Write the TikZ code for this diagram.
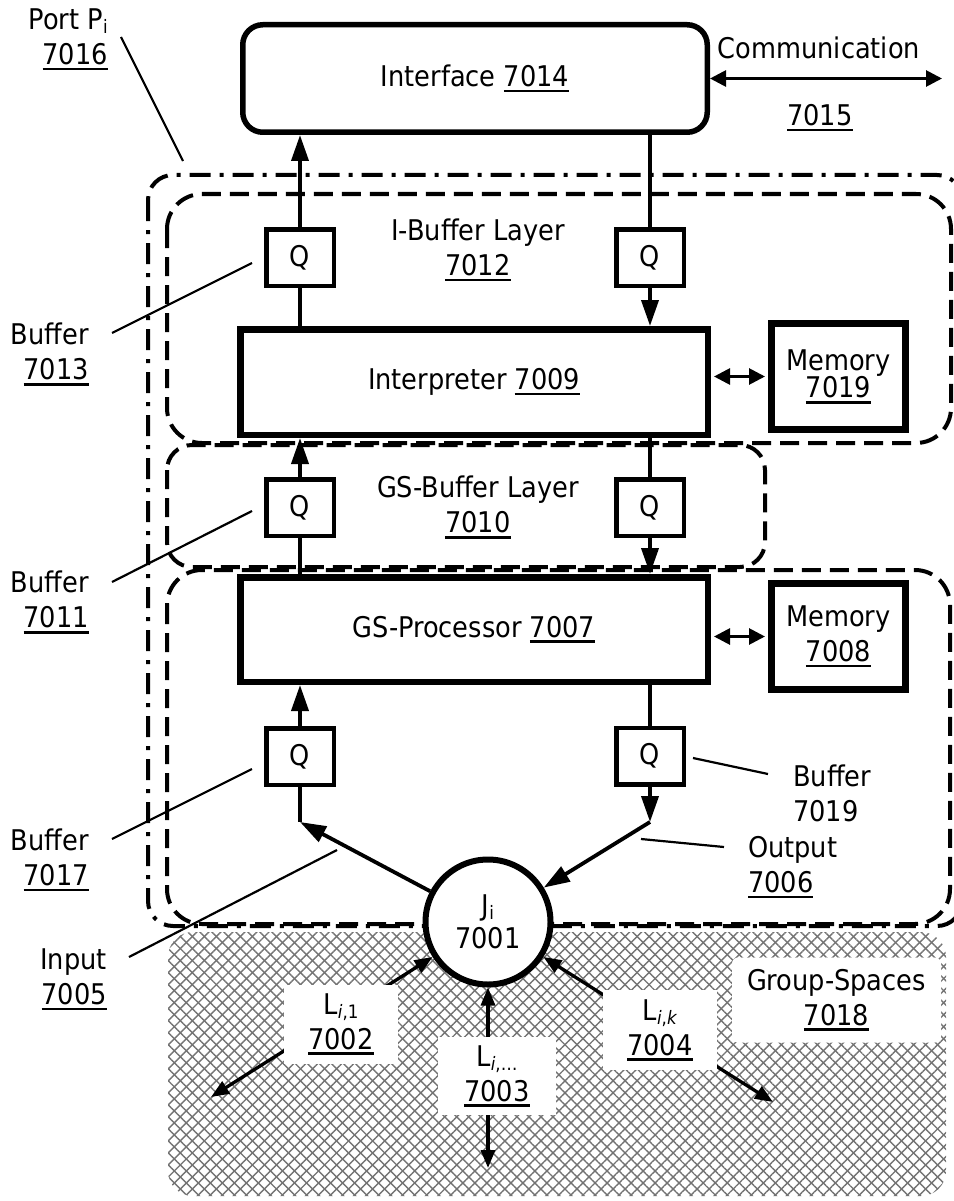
\documentclass[tikz,border=0pt]{standalone}
\usepackage{fontspec}
\setmainfont{DejaVu Sans Condensed}
\usetikzlibrary{arrows.meta,patterns.meta,calc}
\newcommand{\fs}{\fontsize{28.5}{35}\selectfont}
\newcommand{\mysub}[1]{\raisebox{-4pt}{\fontsize{18.5}{18.5}\selectfont #1}}
\newcommand{\myul}[1]{\setbox0\hbox{#1}\rlap{\rule[-5.8pt]{\wd0}{2.5pt}}\box0}
\begin{document}
\begin{tikzpicture}[x=1pt,y=-1pt,
  txt/.style={font=\fs, inner sep=0pt},
  bbox/.style={draw, fill=white, line width=6.5pt, font=\fs, align=center, inner sep=0pt,
    minimum width=467.5pt},
  rbox/.style={draw, fill=white, line width=5.5pt, font=\fs, inner sep=0pt, rounded corners=20pt,
    minimum width=464.5pt, minimum height=107.5pt},
  mbox/.style={draw, fill=white, line width=7pt, font=\fs, align=center, inner sep=0pt,
    minimum width=134pt, minimum height=106pt},
  qbox/.style={draw, fill=white, line width=4.5pt, font=\fs, inner sep=0pt,
    minimum width=67.5pt, minimum height=56.5pt},
  jcirc/.style={draw, fill=white, circle, line width=6pt, font=\fontsize{28.5}{33}\selectfont,
    align=center, inner sep=0pt, minimum size=125pt},
  wlab/.style={fill=white, font=\fs, align=center, inner sep=0pt},
  conn/.style={line width=3.8pt},
  arr/.style={line width=3.8pt, -{Triangle[length=26pt,width=17pt]}},
  darr/.style={line width=2.8pt, {Triangle[length=16pt,width=16pt]}-{Triangle[length=16pt,width=16pt]}},
  harr/.style={line width=3.3pt, {Triangle[length=18pt,width=14pt]}-{Triangle[length=18pt,width=14pt]}},
  leader/.style={line width=2.2pt},
  dashbox/.style={line width=4pt, dash pattern=on 19pt off 9pt, rounded corners=35pt},
  dashdotbox/.style={line width=4pt, dash pattern=on 21pt off 9pt on 4pt off 9pt, rounded corners=25pt}
]
\useasboundingbox (0,0) rectangle (953,1201);

% group-spaces hatch
\path[pattern={Lines[angle=45,distance=8.5pt,line width=1.4pt]}, pattern color=black!55,
  rounded corners=25pt] (168,932) rectangle (946,1196);
\path[pattern={Lines[angle=-45,distance=8.5pt,line width=1.4pt]}, pattern color=black!55,
  rounded corners=25pt] (168,932) rectangle (946,1196);

% regions
\draw[dashdotbox] (148,175) rectangle (962,926);
\draw[dashbox] (167,194) rectangle (951,443);
\draw[dashbox, rounded corners=25pt] (167,445) rectangle (765,567);
\draw[dashbox] (167,570) rectangle (950,924);

% blocks
\node[rbox] (iface) at (475,78.5) {Interface \myul{7014}};
\node[bbox, minimum height=105.5pt] (interp) at (474,382) {Interpreter \myul{7009}};
\node[bbox, minimum height=104.5pt] (gsp) at (474,629.5) {GS-Processor \myul{7007}};
\node[mbox, font=\fontsize{28.5}{27.5}\selectfont] (mem1) at (838.5,376.5) {Memory\\\myul{7019}};
\node[mbox] (mem2) at (838.5,636.5) {Memory\\\myul{7008}};
\node[qbox] (qa) at (300,257.5) {Q};
\node[qbox] (qb) at (650,257.5) {Q};
\node[qbox] (qc) at (300,507.5) {Q};
\node[qbox] (qd) at (650,507.5) {Q};
\node[qbox] (qe) at (300,756.5) {Q};
\node[qbox] (qf) at (650,756) {Q};
\node[jcirc] (J) at (488,922) {J\mysub{i}\\7001};

\coordinate (cl) at (300,822);
\coordinate (cr) at (650,822);
\coordinate (ce) at (942,78.5);
\coordinate (o1) at (211,1097);
\coordinate (o2) at (488,1168);
\coordinate (o3) at (773,1102);

% vertical connectors
\draw[arr] (qa.north) -- (qa.north |- iface.south);
\draw[conn] (qa.south) -- (qa.south |- interp.north);
\draw[conn] (qb.north |- iface.south) -- (qb.north);
\draw[arr] (qb.south) -- (qb.south |- interp.north);
\draw[arr] (qc.north) -- (qc.north |- interp.south);
\draw[conn] (qc.south) -- (qc.south |- gsp.north);
\draw[conn] (qd.north |- interp.south) -- (qd.north);
\draw[arr] (qd.south) -- (qd.south |- gsp.north);
\draw[arr] (qe.north) -- (qe.north |- gsp.south);
\draw[conn] (qf.north |- gsp.south) -- (qf.north);
\draw[conn] (qe.south) -- (cl);
\draw[arr] (J) -- (cl);
\draw[arr] (qf.south) -- (cr);
\draw[arr] (cr) -- (J);

% memory and communication
\draw[darr] ($(mem1.west -| interp.east)+(3,0)$) -- ($(mem1.west)+(-3,0)$);
\draw[darr] ($(mem2.west -| gsp.east)+(3,0)$) -- ($(mem2.west)+(-3,0)$);
\draw[darr] (iface.east) -- (ce);

% links into group spaces
\draw[harr] (J) -- (o1);
\draw[harr] (J) -- (o2);
\draw[harr] (J) -- (o3);
\node[wlab, minimum width=114pt, minimum height=79pt] (l1) at (341,1024) {L\mysub{\textit{i},1}\\\myul{7002}};
\node[wlab, minimum width=118pt, minimum height=78pt] (l2) at (497,1076) {L\mysub{\textit{i},…}\\\myul{7003}};
\node[wlab, minimum width=114pt, minimum height=80pt] (l3) at (660,1030) {L\mysub{\textit{i},\textit{k}}\\\myul{7004}};
\node[wlab, rounded corners=6pt, minimum width=209pt, minimum height=85pt] (gs) at (836.5,1000) {Group-Spaces\\\myul{7018}};

% labels
\node[txt, align=right, anchor=east] (port) at (108,39.5) {Port P\mysub{i}\\\myul{7016}};
\node[txt] (comm) at (819,48) {Communication};
\node[txt] (commn) at (820,118) {\myul{7015}};
\node[txt, align=center] (ibl) at (478,250) {I-Buffer Layer\\\myul{7012}};
\node[txt, align=center] (gbl) at (478,507.5) {GS-Buffer Layer\\\myul{7010}};
\node[txt, align=right, anchor=east] (b13) at (89,354.5) {Buffer\\\myul{7013}};
\node[txt, align=right, anchor=east] (b11) at (89,602.5) {Buffer\\\myul{7011}};
\node[txt, align=right, anchor=east] (b17) at (89,860) {Buffer\\\myul{7017}};
\node[txt, align=right, anchor=east] (inp) at (107,979.5) {Input\\\myul{7005}};
\node[txt, align=left, anchor=west] (b19) at (793,793) {Buffer\\7019};
\node[txt, align=left, anchor=west] (outp) at (748,867.5) {Output\\\myul{7006}};

% leader lines
\coordinate (p1) at (121,37);   \coordinate (p2) at (183,161);
\coordinate (a1) at (112,333);  \coordinate (a2) at (252,263);
\coordinate (b1) at (112,582);  \coordinate (b2) at (252,511);
\coordinate (c1) at (112,839);  \coordinate (c2) at (252,769);
\coordinate (d1) at (129,957);  \coordinate (d2) at (337,850);
\coordinate (e1) at (693,758);  \coordinate (e2) at (768,774);
\coordinate (f1) at (641,839);  \coordinate (f2) at (724,847);
\draw[leader] (p1) -- (p2);
\draw[leader] (a1) -- (a2);
\draw[leader] (b1) -- (b2);
\draw[leader] (c1) -- (c2);
\draw[leader] (d1) -- (d2);
\draw[leader] (e1) -- (e2);
\draw[leader] (f1) -- (f2);
\end{tikzpicture}
\end{document}
